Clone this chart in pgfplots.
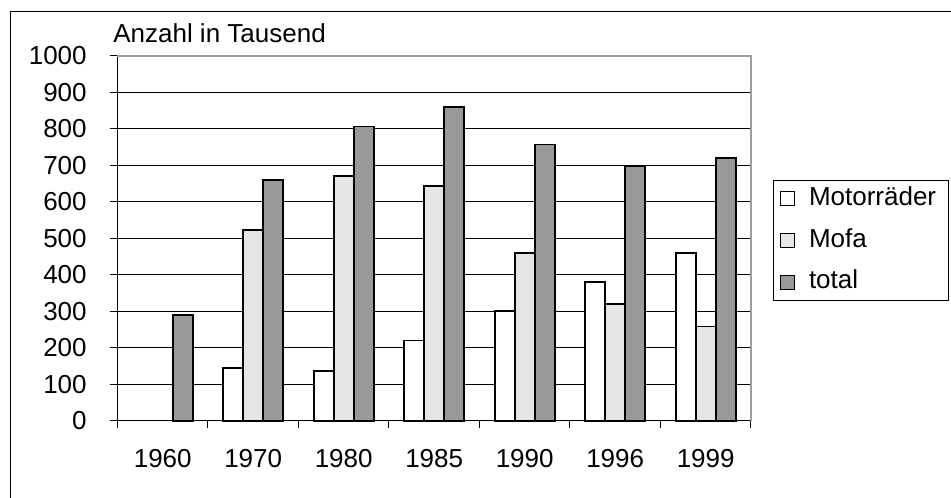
\documentclass[border=0pt]{standalone}
\usepackage{fontspec}
\setmainfont{Liberation Sans}
\usepackage{pgfplots}
\pgfplotsset{compat=1.18}
\definecolor{mofa}{gray}{0.9}
\definecolor{totalc}{gray}{0.6}
\newcommand\lbl{\fontsize{19.5}{23}\selectfont}
\begin{document}
\begin{tikzpicture}
\useasboundingbox (0pt,0pt) rectangle (713.25pt,373.5pt);
% outer frame (only left and top visible)
\draw[black, line width=0.75pt] (7.5pt,0pt) -- (7.5pt,364.5pt) -- (713.25pt,364.5pt);
\begin{axis}[
    at={(88.1pt,58pt)}, anchor=south west,
    scale only axis, width=475.1pt, height=273.5pt,
    clip=false,
    ybar=0pt, bar width=15pt,
    xmin=-0.5, xmax=6.5, ymin=0, ymax=1000,
    axis x line*=bottom, axis y line*=left,
    axis line style={black, line width=0.75pt, -},
    xtick={0,...,6},
    xticklabels={1960,1970,1980,1985,1990,1996,1999},
    major x tick style={draw=none},
    minor xtick={-0.5,0.5,...,6.5},
    ytick={0,100,...,1000},
    tick align=outside,
    major tick length=5.6pt, minor tick length=5.6pt,
    tick style={black, line width=0.75pt},
    ymajorgrids, grid style={black, line width=0.75pt},
    tick label style={font=\lbl},
    /pgf/number format/assume math mode=true,
    /pgf/number format/1000 sep={},
    yticklabel style={anchor=east, inner sep=0pt, xshift=-17.3pt},
    xticklabel style={anchor=north, inner sep=0pt, yshift=-16pt},
    legend image code/.code={\draw[#1, line width=0.75pt] (0pt,-5.2pt) rectangle (10.4pt,5.2pt);},
    legend cell align=left,
    legend style={at={(rel axis cs:1.0352,0.661)}, anchor=north west,
        draw=black, line width=0.75pt, font=\lbl,
        inner xsep=5pt, inner ysep=2pt,
        row sep=7.3pt, column sep=6.3pt,
        nodes={inner xsep=4pt, inner ysep=3pt, text height=14pt, text depth=4pt}},
]
\addplot[draw=black, fill=white, line width=1.3pt] coordinates {
    (1,145) (2,137) (3,220) (4,301) (5,380) (6,460)
};
\addplot[draw=black, fill=mofa, line width=1.3pt] coordinates {
    (1,522) (2,670) (3,643) (4,460) (5,319) (6,258)
};
\addplot[draw=black, fill=totalc, line width=1.3pt] coordinates {
    (0,290) (1,660) (2,807) (3,861) (4,757) (5,698) (6,720)
};
\legend{Motorräder, Mofa, total}
\draw[gray!75, line width=1pt] (rel axis cs:0,1) -- (rel axis cs:1,1) -- (rel axis cs:1,0);
\node[anchor=base west, inner sep=0pt, font=\lbl] at (rel axis cs:-0.007,1.037) {Anzahl in Tausend};
\end{axis}
\end{tikzpicture}
\end{document}
